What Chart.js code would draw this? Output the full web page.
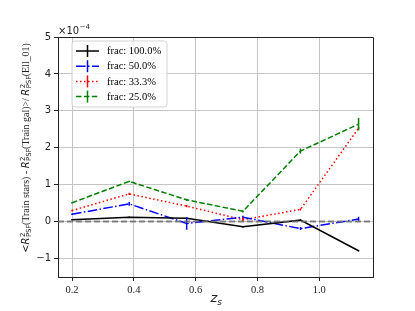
<!DOCTYPE html>
<html><head><meta charset="utf-8">
<script src="https://cdn.jsdelivr.net/npm/chart.js@4/dist/chart.umd.min.js"></script>
<style>html,body{margin:0;padding:0;background:#fff;}#wrap{width:415px;height:311px;}</style>
</head><body><div id="wrap"><canvas id="c" width="415" height="311"></canvas></div>
<script>
// ---- data (values in units of 1e-4) ----
const zBins = [0.200, 0.385, 0.571, 0.753, 0.939, 1.127];
const seriesLabels = ['frac: 100.0%', 'frac: 50.0%', 'frac: 33.3%', 'frac: 25.0%'];
const frac100 = [0.05, 0.12, 0.09, -0.14, 0.04, -0.79];
const frac50  = [0.20, 0.48, -0.05, 0.12, -0.19, 0.07];
const frac33  = [0.30, 0.75, 0.42, 0.05, 0.33, 2.53];
const frac25  = [0.51, 1.09, 0.59, 0.28, 1.91, 2.64];
const err100 = [0.02, 0.02, 0.02, 0.02, 0.02, 0.02];
const err50  = [0.02, 0.05, 0.17, 0.04, 0.04, 0.06];
const err33  = [0.02, 0.03, 0.03, 0.06, 0.03, 0.03];
const err25  = [0.02, 0.02, 0.03, 0.03, 0.07, 0.17];
const xTicks = [0.2, 0.4, 0.6, 0.8, 1.0];
const yTicks = [-1, 0, 1, 2, 3, 4, 5];
const offsetLabel = ['\u00d710', '\u22124'];
const xLabel = ['z', 's'];

const colors = ['#000000', '#0000ff', '#ff0000', '#008000'];
const dashes = [[], [9.6, 2.4, 1.5, 2.4], [1.5, 2.5], [5.5, 2.4]];
const values = [frac100, frac50, frac33, frac25];
const errors = [err100, err50, err33, err25];

const datasets = values.map((vals, i) => ({
  label: seriesLabels[i],
  data: zBins.map((x, j) => ({x: x, y: vals[j]})),
  errs: errors[i],
  borderColor: colors[i],
  backgroundColor: colors[i],
  borderWidth: 1.5,
  borderDash: dashes[i],
  showLine: true,
  fill: false,
  pointRadius: 0,
  tension: 0
}));

const SANS = "'DejaVu Sans'";
const SERIF = "'Liberation Serif'";

const errPlugin = {
  id: 'errbars',
  afterDatasetsDraw(chart) {
    const ctx = chart.ctx, xs = chart.scales.x, ys = chart.scales.y;
    ctx.save();
    chart.data.datasets.forEach((ds) => {
      ctx.strokeStyle = ds.borderColor; ctx.lineWidth = 1.5; ctx.setLineDash([]);
      ds.data.forEach((p, j) => {
        const px = xs.getPixelForValue(p.x);
        ctx.beginPath();
        ctx.moveTo(px, ys.getPixelForValue(p.y - ds.errs[j]));
        ctx.lineTo(px, ys.getPixelForValue(p.y + ds.errs[j]));
        ctx.stroke();
      });
    });
    // zero reference line
    const y0 = ys.getPixelForValue(0);
    ctx.strokeStyle = 'rgba(110,110,110,0.85)'; ctx.lineWidth = 2; ctx.setLineDash([6, 3]);
    ctx.beginPath(); ctx.moveTo(chart.chartArea.left, y0); ctx.lineTo(chart.chartArea.right, y0); ctx.stroke();
    ctx.restore();
  }
};

function drawRich(ctx, segs, s) {
  // returns width, draws if flag
  let x = 0;
  const measure = [];
  segs.forEach(seg => {
    if (seg.R) {
      ctx.font = 'italic ' + s + 'px ' + SANS;
      const wR = ctx.measureText('R').width;
      ctx.font = (s * 0.7) + 'px ' + SANS;
      const w2 = ctx.measureText('2').width, wP = ctx.measureText('PSF').width;
      measure.push({seg, w: wR + Math.max(w2, wP), wR});
    } else {
      ctx.font = s + 'px ' + (seg.serif ? SERIF : SANS);
      measure.push({seg, w: ctx.measureText(seg.t).width});
    }
  });
  return measure;
}

const labelPlugin = {
  id: 'labels',
  afterDraw(chart) {
    const ctx = chart.ctx, ca = chart.chartArea;
    ctx.save();
    // top & right spines
    ctx.strokeStyle = '#222'; ctx.lineWidth = 1; ctx.setLineDash([]);
    ctx.beginPath();
    ctx.moveTo(ca.left, ca.top + 0.5); ctx.lineTo(ca.right + 0.5, ca.top + 0.5); ctx.lineTo(ca.right + 0.5, ca.bottom);
    ctx.stroke();

    // offset text
    ctx.fillStyle = '#222'; ctx.textBaseline = 'alphabetic'; ctx.textAlign = 'left';
    ctx.font = '10px ' + SANS;
    ctx.fillText(offsetLabel[0], ca.left, ca.top - 3);
    const w0 = ctx.measureText(offsetLabel[0]).width;
    ctx.font = '7px ' + SANS;
    ctx.fillText(offsetLabel[1], ca.left + w0 + 0.5, ca.top - 8);

    // x label
    ctx.font = 'italic 13px ' + SANS;
    const wz = ctx.measureText(xLabel[0]).width;
    const cx = (ca.left + ca.right) / 2 - 5;
    ctx.fillText(xLabel[0], cx, 302);
    ctx.font = 'italic 9px ' + SANS;
    ctx.fillText(xLabel[1], cx + wz, 305);

    // y label
    const segs = [
      {t: '<', serif: false}, {R: true}, {t: '(Train stars) - ', serif: true}, {R: true},
      {t: '(Train gal)>/ ', serif: true}, {R: true}, {t: '(Ell_01)', serif: true}
    ];
    let s = 11;
    let m = drawRich(ctx, segs, s);
    let W = m.reduce((a, b) => a + b.w, 0);
    s = s * 210 / W;
    m = drawRich(ctx, segs, s);
    W = m.reduce((a, b) => a + b.w, 0);
    ctx.translate(29, 148);
    ctx.rotate(-Math.PI / 2);
    let x = -W / 2;
    m.forEach(it => {
      if (it.seg.R) {
        ctx.font = 'italic ' + s + 'px ' + SANS;
        ctx.fillText('R', x, 0);
        ctx.font = (s * 0.7) + 'px ' + SANS;
        ctx.fillText('2', x + it.wR + 0.5, -s * 0.45);
        ctx.fillText('PSF', x + it.wR + 0.5, s * 0.25);
      } else {
        ctx.font = s + 'px ' + (it.seg.serif ? SERIF : SANS);
        ctx.fillText(it.seg.t, x, 0);
      }
      x += it.w;
    });
    ctx.restore();

    // legend
    ctx.save();
    const lx = 72, ly = 41, lw = 95, lh = 66, r = 3;
    ctx.beginPath();
    ctx.moveTo(lx + r, ly); ctx.lineTo(lx + lw - r, ly); ctx.quadraticCurveTo(lx + lw, ly, lx + lw, ly + r);
    ctx.lineTo(lx + lw, ly + lh - r); ctx.quadraticCurveTo(lx + lw, ly + lh, lx + lw - r, ly + lh);
    ctx.lineTo(lx + r, ly + lh); ctx.quadraticCurveTo(lx, ly + lh, lx, ly + lh - r);
    ctx.lineTo(lx, ly + r); ctx.quadraticCurveTo(lx, ly, lx + r, ly);
    ctx.fillStyle = 'rgba(255,255,255,0.85)'; ctx.fill();
    ctx.strokeStyle = '#d4d4d4'; ctx.lineWidth = 1; ctx.stroke();
    chart.data.datasets.forEach((ds, i) => {
      const y = 51 + i * 15.2;
      ctx.strokeStyle = ds.borderColor; ctx.lineWidth = 1.5;
      ctx.setLineDash(ds.borderDash);
      ctx.beginPath(); ctx.moveTo(76, y); ctx.lineTo(99, y); ctx.stroke();
      ctx.setLineDash([]);
      ctx.beginPath(); ctx.moveTo(87.5, y - 6); ctx.lineTo(87.5, y + 6); ctx.stroke();
      ctx.fillStyle = '#000'; ctx.font = '10.5px ' + SERIF; ctx.textBaseline = 'middle';
      ctx.fillText(ds.label, 107, y + 0.5);
    });
    ctx.restore();
  }
};

new Chart(document.getElementById('c'), {
  type: 'scatter',
  data: {datasets},
  options: {
    responsive: false, animation: false, devicePixelRatio: 1,
    layout: {padding: {left: 0, top: 37, right: 42, bottom: 0}},
    plugins: {legend: {display: false}, tooltip: {enabled: false}},
    scales: {
      x: {
        type: 'linear', min: 0.1547, max: 1.1737,
        afterBuildTicks: s => { s.ticks = xTicks.map(v => ({value: v})); },
        afterFit: s => { s.height = 34; },
        grid: {color: '#c4c4c4', lineWidth: 1, tickColor: '#222', tickLength: 4, drawTicks: true},
        border: {color: '#222', width: 1},
        ticks: {font: {family: SERIF, size: 10.5}, color: '#222', padding: 3, maxRotation: 0,
                callback: v => Number(v).toFixed(1)}
      },
      y: {
        type: 'linear', min: -1.5, max: 5,
        afterBuildTicks: s => { s.ticks = yTicks.map(v => ({value: v})); },
        afterFit: s => { s.width = 58; },
        grid: {color: '#c4c4c4', lineWidth: 1, tickColor: '#222', tickLength: 4, drawTicks: true},
        border: {color: '#222', width: 1},
        ticks: {font: {family: SANS, size: 10}, color: '#222', padding: 3,
                callback: v => (v < 0 ? '\u2212' + Math.abs(v) : String(v))}
      }
    }
  },
  plugins: [errPlugin, labelPlugin]
});
</script></body></html>
